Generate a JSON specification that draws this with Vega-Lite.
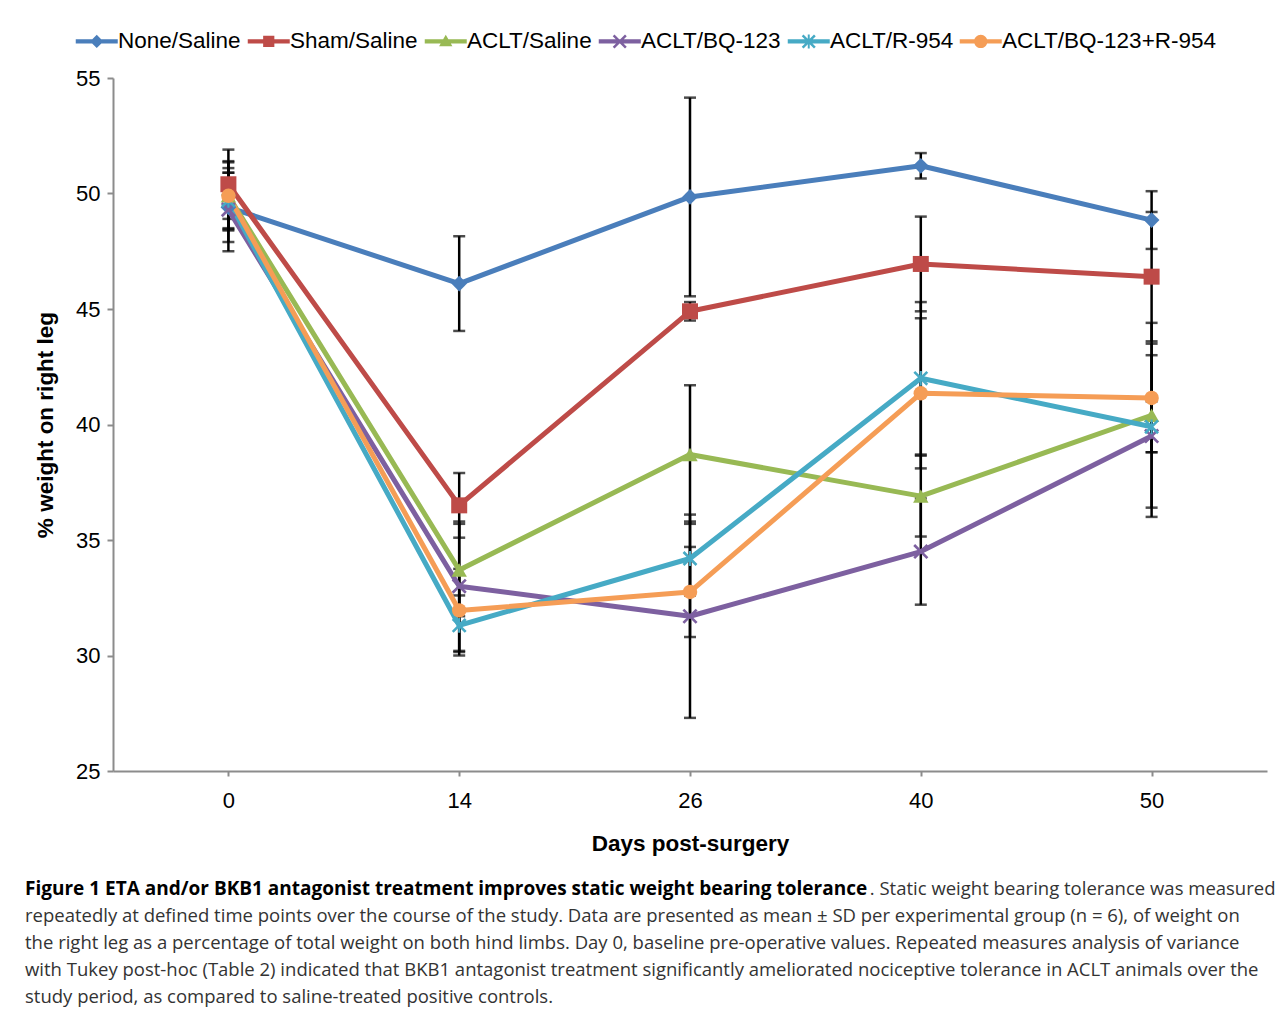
{
  "$schema": "https://vega.github.io/schema/vega-lite/v6.json",
  "autosize": {"type": "none"},
  "padding": {"left": 113, "top": 78, "right": 15, "bottom": 240},
  "width": 1154,
  "height": 693,
  "background": "white",
  "config": {
    "view": {"stroke": null},
    "axis": {"grid": false},
    "legend": {
      "title": null,
      "orient": "none",
      "legendX": -27.5,
      "legendY": -48,
      "direction": "horizontal",
      "columns": 6,
      "columnPadding": 6,
      "labelOffset": 10,
      "labelFont": "Liberation Sans",
      "labelFontSize": 22.5,
      "labelColor": "#000000",
      "labelLimit": 400,
      "symbolSize": 196,
      "symbolStrokeWidth": 0,
      "symbolOpacity": 1
    }
  },
  "title": {
    "text": "Figure 1 ETA and/or BKB1 antagonist treatment improves static weight bearing tolerance",
    "subtitle": [
      "\u200b\u2003\u2003\u2003\u2003\u2003\u2003\u2003\u2003\u2003\u2003\u2003\u2003\u2003\u2003\u2003\u2003\u2003\u2003\u2003\u2003\u2003\u2003\u2003\u2003\u2003\u2003\u2003\u2003\u2003\u2003\u2003\u2003\u2003\u2003\u2003\u2003\u2003\u2003\u2003\u2003\u2003\u2003\u2003\u2003\u2003\u2009\u2009\u2009\u2009. Static weight bearing tolerance was measured",
      "repeatedly at defined time points over the course of the study. Data are presented as mean ± SD per experimental group (n = 6), of weight on",
      "the right leg as a percentage of total weight on both hind limbs. Day 0, baseline pre-operative values. Repeated measures analysis of variance",
      "with Tukey post-hoc (Table 2) indicated that BKB1 antagonist treatment significantly ameliorated nociceptive tolerance in ACLT animals over the",
      "study period, as compared to saline-treated positive controls."
    ],
    "orient": "bottom",
    "anchor": "start",
    "frame": "group",
    "dx": -88,
    "offset": 25,
    "font": "Open Sans",
    "fontSize": 19,
    "fontWeight": "bold",
    "color": "#000000",
    "subtitleFont": "Open Sans",
    "subtitleFontSize": 18.5,
    "subtitleColor": "#333333",
    "subtitleLineHeight": 27,
    "subtitlePadding": -19
  },
  "data": {
    "values": [
      {"series": "None/Saline", "day": "0", "mean": 49.4, "sd": 1.5},
      {"series": "None/Saline", "day": "14", "mean": 46.1, "sd": 2.05},
      {"series": "None/Saline", "day": "26", "mean": 49.85, "sd": 4.3},
      {"series": "None/Saline", "day": "40", "mean": 51.2, "sd": 0.55},
      {"series": "None/Saline", "day": "50", "mean": 48.85, "sd": 1.25},
      {"series": "Sham/Saline", "day": "0", "mean": 50.4, "sd": 1.5},
      {"series": "Sham/Saline", "day": "14", "mean": 36.5, "sd": 1.4},
      {"series": "Sham/Saline", "day": "26", "mean": 44.9, "sd": 0.4},
      {"series": "Sham/Saline", "day": "40", "mean": 46.95, "sd": 2.05},
      {"series": "Sham/Saline", "day": "50", "mean": 46.4, "sd": 2.8},
      {"series": "ACLT/Saline", "day": "0", "mean": 49.9, "sd": 1.45},
      {"series": "ACLT/Saline", "day": "14", "mean": 33.7, "sd": 2.0},
      {"series": "ACLT/Saline", "day": "26", "mean": 38.7, "sd": 3.0},
      {"series": "ACLT/Saline", "day": "40", "mean": 36.9, "sd": 1.75},
      {"series": "ACLT/Saline", "day": "50", "mean": 40.4, "sd": 4.0},
      {"series": "ACLT/BQ-123", "day": "0", "mean": 49.3, "sd": 1.8},
      {"series": "ACLT/BQ-123", "day": "14", "mean": 33.0, "sd": 2.8},
      {"series": "ACLT/BQ-123", "day": "26", "mean": 31.7, "sd": 4.4},
      {"series": "ACLT/BQ-123", "day": "40", "mean": 34.5, "sd": 2.3},
      {"series": "ACLT/BQ-123", "day": "50", "mean": 39.5, "sd": 3.5},
      {"series": "ACLT/R-954", "day": "0", "mean": 49.7, "sd": 1.2},
      {"series": "ACLT/R-954", "day": "14", "mean": 31.3, "sd": 1.3},
      {"series": "ACLT/R-954", "day": "26", "mean": 34.2, "sd": 1.6},
      {"series": "ACLT/R-954", "day": "40", "mean": 42.0, "sd": 3.3},
      {"series": "ACLT/R-954", "day": "50", "mean": 39.9, "sd": 1.1},
      {"series": "ACLT/BQ-123+R-954", "day": "0", "mean": 49.9, "sd": 1.5},
      {"series": "ACLT/BQ-123+R-954", "day": "14", "mean": 31.95, "sd": 1.8},
      {"series": "ACLT/BQ-123+R-954", "day": "26", "mean": 32.75, "sd": 1.95},
      {"series": "ACLT/BQ-123+R-954", "day": "40", "mean": 41.35, "sd": 3.25},
      {"series": "ACLT/BQ-123+R-954", "day": "50", "mean": 41.15, "sd": 2.35}
    ]
  },
  "encoding": {
    "x": {
      "field": "day",
      "type": "ordinal",
      "sort": ["0", "14", "26", "40", "50"],
      "scale": {"type": "point", "padding": 0.5},
      "axis": {
        "title": "Days post-surgery",
        "labelAngle": 0,
        "labelFont": "Liberation Sans",
        "labelFontSize": 22,
        "labelColor": "#000000",
        "labelPadding": 14,
        "tickSize": 5,
        "tickWidth": 2,
        "tickColor": "#8c8c8c",
        "domainColor": "#8c8c8c",
        "domainWidth": 2,
        "titleFont": "Liberation Sans",
        "titleFontSize": 22.5,
        "titleFontWeight": "bold",
        "titleColor": "#000000",
        "titlePadding": 21
      }
    }
  },
  "layer": [
    {
      "mark": {
        "type": "errorbar",
        "ticks": {"size": 12, "thickness": 2.5, "color": "#000000"},
        "rule": {"strokeWidth": 2.5, "color": "#000000"}
      },
      "encoding": {
        "y": {
          "field": "mean",
          "type": "quantitative",
          "scale": {"domain": [25, 55], "nice": false, "zero": false},
          "axis": {
            "title": "% weight on right leg",
            "values": [25, 30, 35, 40, 45, 50, 55],
            "labelFont": "Liberation Sans",
            "labelFontSize": 22,
            "labelColor": "#000000",
            "labelPadding": 7,
            "tickSize": 6,
            "tickWidth": 2,
            "tickColor": "#8c8c8c",
            "domainColor": "#8c8c8c",
            "domainWidth": 2,
            "titleFont": "Liberation Sans",
            "titleFontSize": 22.5,
            "titleFontWeight": "bold",
            "titleColor": "#000000",
            "titlePadding": 18
          }
        },
        "yError": {"field": "sd"}
      }
    },
    {
      "mark": {"type": "line", "strokeWidth": 5, "strokeJoin": "round"},
      "encoding": {
        "y": {"field": "mean", "type": "quantitative"},
        "color": {
          "field": "series",
          "type": "nominal",
          "legend": {
            "encode": {
              "symbols": {
                "update": {
                  "opacity": {"value": 1},
                  "strokeWidth": {"value": 0},
                  "shape": {
                    "signal": "datum.value === 'None/Saline' ? 'M-3,-0.32H3V0.32H-3Z M0,-0.95L0.95,0L0,0.95L-0.95,0Z' : datum.value === 'Sham/Saline' ? 'M-3,-0.32H3V0.32H-3Z M-0.8,-0.8H0.8V0.8H-0.8Z' : datum.value === 'ACLT/Saline' ? 'M-3,-0.32H3V0.32H-3Z M0,-0.95L0.95,0.7H-0.95Z' : datum.value === 'ACLT/BQ-123' ? 'M-3,-0.32H3V0.32H-3Z M-1,-0.75L-0.75,-1L1,0.75L0.75,1Z M0.75,-1L1,-0.75L-0.75,1L-1,0.75Z' : datum.value === 'ACLT/R-954' ? 'M-3,-0.32H3V0.32H-3Z M-1,-0.75L-0.75,-1L1,0.75L0.75,1Z M0.75,-1L1,-0.75L-0.75,1L-1,0.75Z M-0.14,-1H0.14V1H-0.14Z' : 'M-3,-0.32H3V0.32H-3Z M0.95,0A0.95,0.95 0 1,1 -0.95,0A0.95,0.95 0 1,1 0.95,0Z'"
                  }
                }
              }
            }
          }
        }
      }
    },
    {
      "mark": {"type": "point", "filled": true, "opacity": 1, "strokeWidth": 0},
      "encoding": {
        "y": {"field": "mean", "type": "quantitative"},
        "color": {
          "field": "series",
          "type": "nominal",
          "scale": {
            "domain": ["None/Saline", "Sham/Saline", "ACLT/Saline", "ACLT/BQ-123", "ACLT/R-954", "ACLT/BQ-123+R-954"],
            "range": ["#4A7EBB", "#BE4B48", "#98B954", "#7D60A0", "#46AAC5", "#F59D56"]
          },
          "legend": {
            "encode": {
              "symbols": {
                "update": {
                  "opacity": {"value": 1},
                  "strokeWidth": {"value": 0},
                  "shape": {
                    "signal": "datum.value === 'None/Saline' ? 'M-3,-0.32H3V0.32H-3Z M0,-0.95L0.95,0L0,0.95L-0.95,0Z' : datum.value === 'Sham/Saline' ? 'M-3,-0.32H3V0.32H-3Z M-0.8,-0.8H0.8V0.8H-0.8Z' : datum.value === 'ACLT/Saline' ? 'M-3,-0.32H3V0.32H-3Z M0,-0.95L0.95,0.7H-0.95Z' : datum.value === 'ACLT/BQ-123' ? 'M-3,-0.32H3V0.32H-3Z M-1,-0.75L-0.75,-1L1,0.75L0.75,1Z M0.75,-1L1,-0.75L-0.75,1L-1,0.75Z' : datum.value === 'ACLT/R-954' ? 'M-3,-0.32H3V0.32H-3Z M-1,-0.75L-0.75,-1L1,0.75L0.75,1Z M0.75,-1L1,-0.75L-0.75,1L-1,0.75Z M-0.14,-1H0.14V1H-0.14Z' : 'M-3,-0.32H3V0.32H-3Z M0.95,0A0.95,0.95 0 1,1 -0.95,0A0.95,0.95 0 1,1 0.95,0Z'"
                  }
                }
              }
            }
          }
        },
        "shape": {
          "field": "series",
          "type": "nominal",
          "scale": {
            "domain": ["ACLT/BQ-123+R-954", "ACLT/R-954", "ACLT/BQ-123", "ACLT/Saline", "Sham/Saline", "None/Saline"],
            "range": ["circle", "M-1,-0.75L-0.75,-1L1,0.75L0.75,1Z M0.75,-1L1,-0.75L-0.75,1L-1,0.75Z M-0.14,-1H0.14V1H-0.14Z", "M-1,-0.75L-0.75,-1L1,0.75L0.75,1Z M0.75,-1L1,-0.75L-0.75,1L-1,0.75Z", "triangle-up", "square", "diamond"]
          },
          "legend": null
        },
        "size": {
          "field": "series",
          "type": "nominal",
          "scale": {
            "domain": ["Sham/Saline", "None/Saline", "ACLT/Saline", "ACLT/BQ-123", "ACLT/R-954", "ACLT/BQ-123+R-954"],
            "range": [256, 210, 300, 196, 230, 330]
          },
          "legend": null
        }
      }
    }
  ]
}
